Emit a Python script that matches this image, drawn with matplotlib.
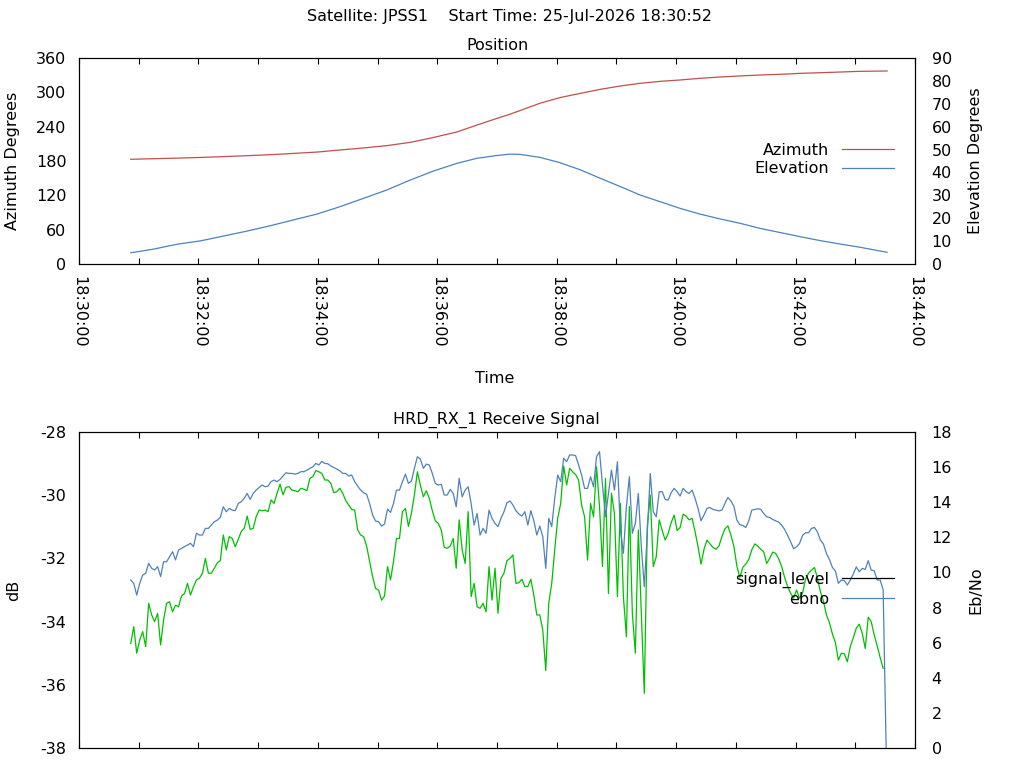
import numpy as np
import matplotlib
matplotlib.use("Agg")
import matplotlib.pyplot as plt
from matplotlib.ticker import MultipleLocator, FuncFormatter
from matplotlib.lines import Line2D

# ------------------------------ data ------------------------------
# time in seconds after 18:30:00
sat_name = "JPSS1"
start_time = "25-Jul-2026 18:30:52"

pos_time = [52, 75, 98, 122, 145, 169, 192, 215, 239, 262, 286, 309, 333, 356,
            380, 400, 420, 433, 443, 463, 483, 504, 524, 544, 564, 584, 604, 624,
            644, 664, 684, 705, 725, 745, 765, 785, 812]
azimuth = [183.0, 184.0, 185.0, 186.2, 187.7, 189.3, 191.0, 193.2, 195.6, 199.2,
           202.8, 206.8, 212.6, 221.0, 230.9, 242.9, 254.5, 261.8, 268.0, 280.8,
           290.7, 298.3, 305.3, 311.1, 315.8, 319.2, 321.6, 324.5, 326.8, 328.6,
           330.3, 331.5, 333.2, 334.3, 335.5, 336.7, 337.3]
elevation = [4.9, 6.5, 8.6, 10.1, 12.2, 14.4, 16.7, 19.2, 21.8, 25.0,
             28.7, 32.3, 36.7, 40.6, 44.0, 46.2, 47.4, 48.0, 47.9, 46.6,
             44.3, 41.1, 37.4, 33.8, 30.1, 27.2, 24.3, 21.8, 19.7, 17.8,
             15.6, 13.7, 11.9, 10.2, 8.7, 7.3, 5.1]

# receiver log, one sample every 3 s from 18:30:52
sig_start = 52
sig_step = 3
signal_level = [
    -34.69, -34.16, -35.00, -34.58, -34.32, -34.79, -33.42, -33.79, -34.00, -33.74,
    -34.74, -33.95, -33.42, -33.37, -33.69, -33.48, -33.53, -33.19, -33.11, -32.79,
    -33.16, -32.90, -32.68, -32.63, -32.47, -32.00, -32.47, -32.47, -32.31, -32.14,
    -32.07, -31.26, -31.73, -31.31, -31.37, -31.63, -31.40, -31.15, -31.05, -30.66,
    -31.08, -31.05, -30.68, -30.47, -30.49, -30.47, -30.52, -30.15, -30.26, -29.94,
    -29.65, -29.99, -29.75, -29.73, -29.84, -29.86, -29.89, -29.78, -29.81, -29.86,
    -29.47, -29.41, -29.22, -29.26,
    -29.31, -29.52, -29.52, -29.62, -29.92, -29.89, -29.78, -29.94, -30.17, -30.31,
    -30.45, -30.47, -31.10, -31.26, -31.31, -31.61, -32.10, -32.58, -32.95, -33.00,
    -33.32, -33.19, -32.26, -32.68, -32.10, -31.37, -31.37, -30.52, -30.42, -30.99,
    -30.57, -29.99, -29.26, -29.68, -30.05, -29.86, -30.10, -30.49, -30.81, -30.89,
    -31.10, -31.65, -31.68, -31.61, -31.37, -32.31, -30.78, -31.73, -32.16, -30.52,
    -33.21, -32.79, -33.53, -33.58, -33.42, -33.69, -32.26, -33.32, -32.31, -33.74,
    -32.63, -32.47, -32.07,
    -32.00, -31.89, -32.79, -32.77, -32.66, -32.89, -32.89, -32.66, -33.16, -33.79,
    -33.79, -34.27, -35.55, -33.42, -32.79, -31.73, -30.73, -30.26, -29.08, -29.68,
    -29.15, -29.26, -29.35, -29.52, -30.31, -30.68, -32.05, -30.26, -30.68, -29.10,
    -30.36, -32.26, -29.47, -33.11, -29.94, -30.57, -33.21, -30.26, -33.21, -34.48,
    -30.36, -33.74, -35.00, -31.10, -33.74, -36.27, -30.99, -29.99, -32.26, -31.95,
    -30.78, -31.12, -31.42, -31.21, -30.87, -30.63, -31.12, -31.02, -30.60, -30.66,
    -30.78, -30.73, -31.15,
    -31.63, -32.18, -31.71, -31.42, -31.54, -31.65, -31.71, -31.61, -31.31, -31.07,
    -30.97, -31.26, -31.61, -32.24, -32.60, -32.28, -32.18, -32.03, -31.73, -31.54,
    -31.61, -31.71, -31.79, -32.16, -32.00, -31.80, -31.84, -32.01, -32.26, -32.60,
    -32.89, -33.10, -33.26, -33.00, -33.26, -33.10, -32.66, -32.47, -32.37, -32.29,
    -32.63, -33.06, -33.35, -33.79, -34.03, -34.39, -34.66, -35.22, -35.00, -35.02,
    -35.27, -34.79, -34.51, -34.21, -34.08, -34.37, -34.85, -33.86, -34.00, -34.42,
    -34.77, -35.14, -35.48]
ebno = [
    9.57, 9.38, 8.71, 9.38, 9.85, 9.95, 10.52, 10.23, 10.14, 10.33,
    9.76, 10.61, 10.61, 10.90, 11.18, 10.71, 11.28, 11.37, 11.47, 11.56,
    11.66, 11.47, 12.23, 12.13, 12.13, 12.51, 12.51, 12.70, 12.89, 12.98,
    13.14, 13.74, 13.46, 13.65, 13.55, 13.52, 13.93, 14.03, 14.22, 14.50,
    14.16, 14.50, 14.69, 14.84, 14.98, 14.88, 14.92, 15.17, 15.26, 15.17,
    15.30, 15.49, 15.68, 15.64, 15.64, 15.60, 15.64, 15.74, 15.74, 15.83,
    15.93, 16.02, 16.21, 16.12,
    16.33, 16.21, 16.19, 16.06, 15.98, 15.89, 15.79, 15.64, 15.64, 15.49,
    15.55, 15.17, 14.92, 14.69, 14.54, 14.45, 13.93, 13.27, 12.93, 12.89,
    12.64, 12.76, 13.61, 13.42, 13.93, 14.69, 14.69, 15.17, 15.60, 15.07,
    15.21, 15.93, 16.59, 16.46, 15.93, 16.17, 16.12, 15.64, 15.07, 14.98,
    15.02, 14.41, 14.41, 14.73, 14.50, 13.74, 15.36, 14.31, 14.69, 14.88,
    13.93, 12.70, 13.36, 12.13, 12.51, 12.23, 13.55, 13.08, 12.79, 12.61,
    13.08, 13.46, 13.97,
    14.07, 13.84, 13.52, 13.33, 13.21, 13.46, 12.70, 13.52, 12.95, 12.13,
    12.64, 12.04, 10.23, 13.08, 12.61, 14.22, 15.55, 15.17, 16.50, 16.31,
    16.69, 16.69, 16.65, 16.12, 15.55, 14.79, 14.79, 15.45, 14.88, 16.59,
    16.88, 14.98, 13.17, 14.50, 15.83, 14.69, 16.31, 12.42, 11.09, 13.74,
    15.45, 12.23, 12.79, 14.50, 11.47, 9.19, 12.23, 15.64, 13.46, 13.17,
    14.60, 14.60, 14.16, 14.12, 14.54, 14.79, 14.60, 14.35, 14.79, 14.60,
    14.50, 14.69, 14.22,
    13.65, 12.94, 13.27, 13.65, 13.70, 13.59, 13.55, 13.51, 13.55, 13.93,
    14.27, 14.08, 13.78, 12.98, 12.72, 12.68, 12.56, 12.94, 13.55, 13.59,
    13.63, 13.59, 13.36, 13.17, 13.13, 13.02, 12.94, 12.87, 12.70, 12.45,
    12.11, 11.75, 11.35, 11.46, 11.65, 12.11, 12.26, 12.26, 12.51, 12.56,
    12.30, 11.84, 11.62, 11.08, 10.74, 10.29, 10.08, 9.38, 9.57, 9.53,
    9.28, 9.57, 9.91, 10.32, 10.04, 10.23, 10.17, 10.67, 10.13, 10.10,
    9.57, 9.57, 9.00, 0.0]

az_ticks = range(0, 361, 60)
el_ticks = range(0, 91, 10)
db_ticks = range(-38, -27, 2)
eb_ticks = range(0, 19, 2)

# ------------------------------ style ------------------------------
RED = "#c0504d"
BLUE = "#4f81bd"
GREEN = "#00c000"
FS = 11.5
plt.rcParams["font.size"] = FS
plt.rcParams["axes.linewidth"] = 0.8
plt.rcParams["axes.unicode_minus"] = False

W, H = 1024, 768


def px_box(left, top, right, bottom):
    return [left / W, 1 - bottom / H, (right - left) / W, (bottom - top) / H]


def fmt_time(x, pos):
    s = int(round(x)) + 30 * 60
    return "18:%02d:%02d" % (s // 60, s % 60)


def style_x(ax, labels=True):
    ax.set_xlim(0, 840)
    ax.xaxis.set_major_locator(MultipleLocator(120))
    ax.xaxis.set_minor_locator(MultipleLocator(60))
    ax.xaxis.set_major_formatter(FuncFormatter(fmt_time))
    ax.tick_params(axis="x", which="both", direction="in", length=4, width=0.8,
                   top=True, bottom=True, labelbottom=labels, pad=9)
    if labels:
        for lab in ax.get_xticklabels():
            lab.set_rotation(-90)


def add_key(ax, handles, ypos):
    # gnuplot style key: text right-aligned, sample line after it
    ax.legend(handles=handles, loc="center right", bbox_to_anchor=(0.975, ypos),
              frameon=False, markerfirst=False, handlelength=3.26, handletextpad=0.8,
              borderpad=0, borderaxespad=0, labelspacing=0.22, fontsize=FS)


fig = plt.figure(figsize=(W / 100, H / 100), dpi=100)

# ---------------------------- position ----------------------------
ax1 = fig.add_axes(px_box(79, 58, 915, 264))
l_az, = ax1.plot(pos_time, azimuth, color=RED, lw=0.9, label="Azimuth")
ax1.set_ylim(0, 360)
ax1.set_yticks(az_ticks)
ax1.tick_params(axis="y", length=0, pad=9)
style_x(ax1)

ax2 = ax1.twinx()
l_el, = ax2.plot(pos_time, elevation, color=BLUE, lw=0.9, label="Elevation")
ax2.set_ylim(0, 90)
ax2.set_yticks(el_ticks)
ax2.tick_params(axis="y", length=0, pad=12)
add_key(ax2, [l_az, l_el], 0.507)

# ----------------------------- signal -----------------------------
ax3 = fig.add_axes(px_box(79, 432, 915, 748))
t_sig = sig_start + sig_step * np.arange(len(signal_level))
t_eb = sig_start + sig_step * np.arange(len(ebno))
ax3.plot(t_sig, signal_level, color=GREEN, lw=0.9)
ax3.set_ylim(-38, -28)
ax3.set_yticks(db_ticks)
ax3.tick_params(axis="y", length=0, pad=9)
style_x(ax3, labels=False)

ax4 = ax3.twinx()
l_eb, = ax4.plot(t_eb, ebno, color=BLUE, lw=0.9, label="ebno")
ax4.set_ylim(0, 18)
ax4.set_yticks(eb_ticks)
ax4.tick_params(axis="y", length=0, pad=12)
sig_handle = Line2D([], [], color="black", lw=0.9, label="signal_level")
add_key(ax4, [sig_handle, l_eb], 0.502)

# ------------------------------ texts ------------------------------
fig.text(509.5 / W, 1 - 17 / H, "Satellite: %s    Start Time: %s" % (sat_name, start_time),
         ha="center", va="center")
fig.text(497 / W, 1 - 46 / H, "Position", ha="center", va="center")
fig.text(496 / W, 1 - 420 / H, "HRD_RX_1 Receive Signal", ha="center", va="center")
fig.text(13 / W, 1 - 161 / H, "Azimuth Degrees", rotation=90, ha="center", va="center")
fig.text(975.5 / W, 1 - 161 / H, "Elevation Degrees", rotation=90, ha="center", va="center")
fig.text(495 / W, 1 - 379 / H, "Time", ha="center", va="center")
fig.text(13.5 / W, 1 - 590 / H, "dB", rotation=90, ha="center", va="center")
fig.text(975.5 / W, 1 - 590 / H, "Eb/No", rotation=90, ha="center", va="center")

fig.savefig("out.png", dpi=100)
